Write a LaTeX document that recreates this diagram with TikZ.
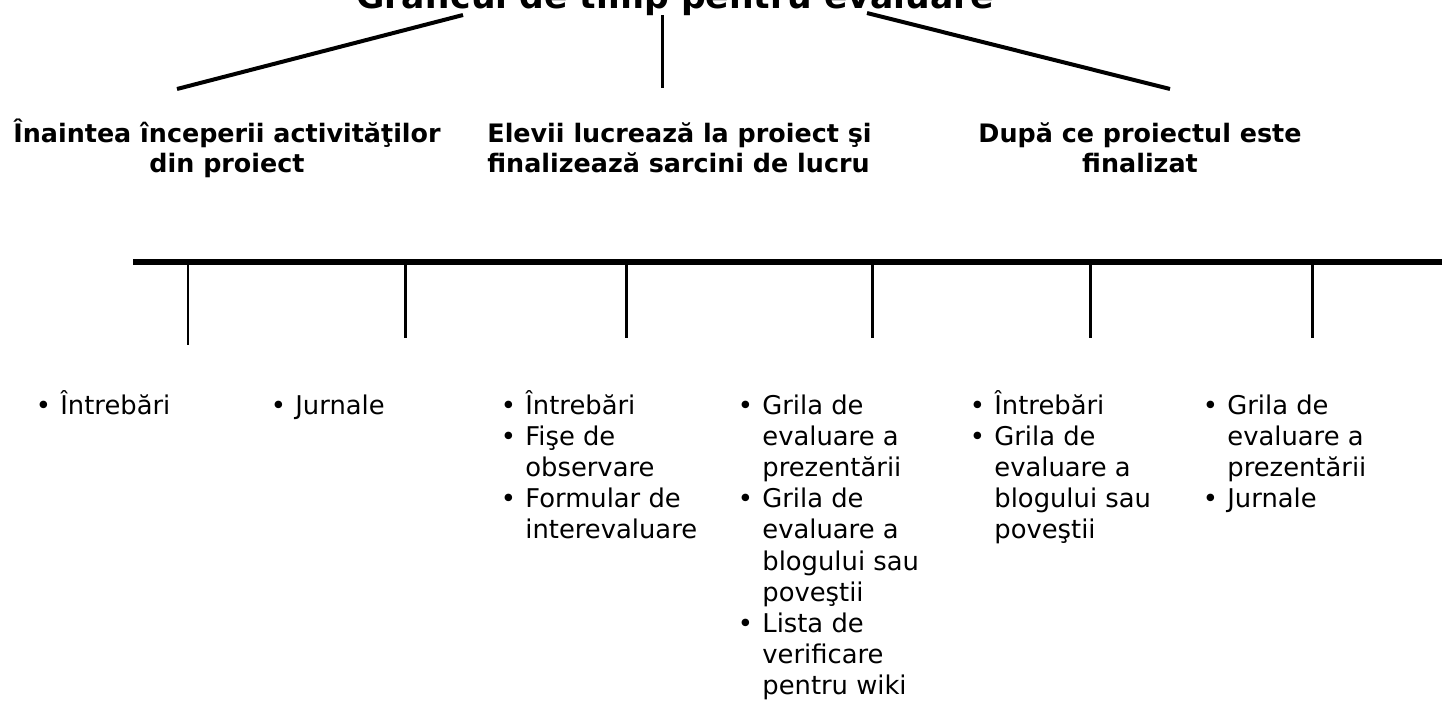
\documentclass[tikz,border=0pt]{standalone}
\usepackage{fontspec}
\setmainfont{DejaVu Sans}
\usetikzlibrary{positioning}
\tikzset{grafic/.style={x=0.5pt, y=-0.5pt},
titlu/.style={font=\bfseries\fontsize{17.3}{20}\selectfont, inner sep=0, anchor=base},
faza/.style={font=\bfseries\fontsize{12.7}{15}\selectfont, inner sep=0, anchor=base},
lista/.style={font=\fontsize{12.9}{15.6}\selectfont, inner sep=0, anchor=base west},
ramura/.style={line width=2pt},
axa/.style={line width=3pt},
crestatura/.style={line width=1.5pt}}
\newcommand\bul{\makebox[8.5pt][l]{\makebox[0pt]{\textbullet}}}

\begin{document}
\begin{tikzpicture}[grafic]
\useasboundingbox (0,0) rectangle (1442,702);
\node[titlu] (titlu) at (675,8) {Graficul de timp pentru evaluare};
\coordinate (r1) at (463,15);
\coordinate (r2) at (662,15);
\coordinate (r3) at (867,13);
\coordinate (f1) at (177,89);
\coordinate (f2) at (662,88);
\coordinate (f3) at (1170,89);
\draw[ramura] (r1) -- (f1);
\draw[ramura, line width=1.5pt] (r2) -- (f2);
\draw[ramura] (r3) -- (f3);
\node[faza, align=center] (inainte) at (227,172) {Înaintea începerii activităţilor\\din proiect};
\node[faza, align=left, anchor=base west] (lucru) at (487,172) {Elevii lucrează la proiect şi\\finalizează sarcini de lucru};
\node[faza, align=center] (dupa) at (1140,172) {După ce proiectul este\\finalizat};
\coordinate (start) at (133,262);
\coordinate (capat) at (1442,262);
\draw[axa] (start) -- (capat);
\coordinate (t1) at (188,262);
\coordinate (b1) at (188,345);
\draw[crestatura, line width=0.75pt] (t1) -- (b1);
\foreach \i/\x in {2/405,3/626,4/872,5/1090,6/1312}{
  \coordinate (t\i) at (\x,262);
  \coordinate (b\i) at (\x,338);
  \draw[crestatura] (t\i) -- (b\i);
}
\node[lista] (l1) at (43,414) {\begin{tabular}[t]{@{}l@{}l@{}}
\bul & Întrebări
\end{tabular}};
\node[lista] (l2) at (278,414) {\begin{tabular}[t]{@{}l@{}l@{}}
\bul & Jurnale
\end{tabular}};
\node[lista] (l3) at (508,414) {\begin{tabular}[t]{@{}l@{}l@{}}
\bul & Întrebări\\
\bul & Fişe de\\
& observare\\
\bul & Formular de\\
& interevaluare
\end{tabular}};
\node[lista] (l4) at (745,414) {\begin{tabular}[t]{@{}l@{}l@{}}
\bul & Grila de\\
& evaluare a\\
& prezentării\\
\bul & Grila de\\
& evaluare a\\
& blogului sau\\
& poveştii\\
\bul & Lista de\\
& verificare\\
& pentru wiki
\end{tabular}};
\node[lista] (l5) at (977,414) {\begin{tabular}[t]{@{}l@{}l@{}}
\bul & Întrebări\\
\bul & Grila de\\
& evaluare a\\
& blogului sau\\
& poveştii
\end{tabular}};
\node[lista] (l6) at (1210,414) {\begin{tabular}[t]{@{}l@{}l@{}}
\bul & Grila de\\
& evaluare a\\
& prezentării\\
\bul & Jurnale
\end{tabular}};
\end{tikzpicture}
\end{document}
